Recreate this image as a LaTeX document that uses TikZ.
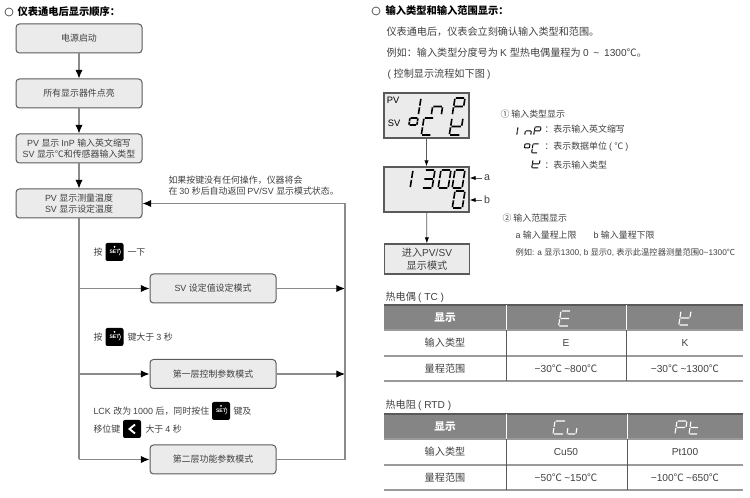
\documentclass[tikz,border=0pt]{standalone}
\usepackage{fontspec}
\setmainfont{Liberation Sans}
\newfontfamily\cjk{Noto Sans CJK SC}
\usetikzlibrary{arrows.meta}

% switch to the CJK family by character range
\newXeTeXintercharclass\cjkclass
\newcount\cjkcode
\cjkcode="3000
\loop\ifnum\cjkcode<"A000 \XeTeXcharclass\cjkcode=\cjkclass \advance\cjkcode by 1 \repeat
\cjkcode="FF00
\loop\ifnum\cjkcode<"FFF0 \XeTeXcharclass\cjkcode=\cjkclass \advance\cjkcode by 1 \repeat
\XeTeXcharclass"2103=\cjkclass
\XeTeXcharclass"2460=\cjkclass
\XeTeXcharclass"2461=\cjkclass
\XeTeXinterchartoks 0 \cjkclass={\cjk}
\XeTeXinterchartoks 4095 \cjkclass={\cjk}
\XeTeXinterchartoks \cjkclass 0={\rmfamily}
\XeTeXinterchartoks 4095 0={\rmfamily}
\XeTeXinterchartokenstate=1

\definecolor{inktext}{HTML}{404040}
\definecolor{boxfill}{HTML}{EBEBEB}
\definecolor{boxline}{HTML}{5A5A5A}
\definecolor{flowgray}{HTML}{8A8A8A}
\definecolor{headgray}{HTML}{858585}
\definecolor{rulegray}{HTML}{9A9A9A}

% seven segment pieces, unit square, y down
\newcommand{\sega}{(.08,0) -- (.92,0) }
\newcommand{\segb}{(1,.05) -- (1,.45) }
\newcommand{\segc}{(1,.55) -- (1,.95) }
\newcommand{\segd}{(.08,1) -- (.92,1) }
\newcommand{\sege}{(0,.55) -- (0,.95) }
\newcommand{\segf}{(0,.05) -- (0,.45) }
\newcommand{\segg}{(.08,.5) -- (.92,.5) }
\newcommand{\segchar}[6][segdark]{\begin{scope}[shift={(#2,#3)},x=#4*0.75pt,y=#5*0.75pt,xslant=-0.16]\draw[#1] #6;\end{scope}}
\newcommand{\setkey}[3]{\node[keybox] (#1) at (#2,#3) {\fontsize{3.8}{4}\selectfont\bfseries SET};
\draw [white,line width=0.35pt] (#1.center) ++(4.4,-3.4) arc (-50:50:4.4);
\fill [white] (#1.center) ++(0,-5) circle (1);}

\tikzset{every picture/.style={line width=0.75pt}}
\tikzset{
  flowbox/.style={draw=boxline,fill=boxfill,rounded corners=2.6pt,minimum width=94.5pt,minimum height=21.75pt,inner sep=0pt,align=center,font=\fontsize{6.7}{8.2}\selectfont,text=inktext},
  txt/.style={anchor=west,inner sep=0pt,font=\fontsize{6.7}{8.2}\selectfont,text=inktext},
  bigtxt/.style={txt,font=\fontsize{7.6}{9}\selectfont},
  headtxt/.style={txt,font=\fontsize{7.7}{9}\selectfont\bfseries,text=black},
  celltxt/.style={inner sep=0pt,font=\fontsize{7.6}{9}\selectfont,text=inktext},
  thtxt/.style={inner sep=0pt,font=\fontsize{8}{9}\selectfont\bfseries,text=white},
  flowline/.style={draw=flowgray,line width=0.8pt},
  flowarrow/.style={flowline,-{Latex[black,length=6.5pt,width=5.5pt]}},
  thinarrow/.style={draw=boxline,line width=0.6pt,-{Latex[black,length=4.5pt,width=3.2pt]}},
  lcdbox/.style={draw=boxline,fill=boxfill,line width=0.9pt,minimum width=63.75pt,inner sep=0pt},
  keybox/.style={fill=black,rounded corners=1.5pt,minimum size=13.5pt,inner sep=0pt,text=white},
  segdark/.style={draw=black,line width=1.2pt},
  segsmall/.style={draw=black,line width=0.75pt},
  seglight/.style={draw=white,line width=0.85pt},
}

\begin{document}
\begin{tikzpicture}[x=0.75pt,y=0.75pt,yscale=-1,xscale=1]
\useasboundingbox (0,0) rectangle (750,498);

% left headline
\draw [inktext,line width=0.5pt] (9,12) circle (4);
\node [headtxt] (lefthead) at (17,12) {仪表通电后显示顺序：};

% flow boxes
\node [flowbox] (power) at (79,38.5) {电源启动};
\node [flowbox] (lit) at (79,93.5) {所有显示器件点亮};
\node [flowbox] (typeshow) at (79,148.5) {PV 显示 InP 输入英文缩写\\SV 显示℃和传感器输入类型};
\node [flowbox] (live) at (79,203.5) {PV 显示测量温度\\SV 显示设定温度};
\node [flowbox] (svmode) at (213,288.5) {SV 设定值设定模式};
\node [flowbox] (firstmode) at (213,374) {第一层控制参数模式};
\node [flowbox] (secondmode) at (213,459.5) {第二层功能参数模式};

\coordinate (leftsv) at (79,288.5);
\coordinate (leftfirst) at (79,374);
\coordinate (leftsecond) at (79,459.5);
\coordinate (rightsv) at (345,288.5);
\coordinate (rightfirst) at (345,374);
\coordinate (rightsecond) at (345,459.5);
\coordinate (righttop) at (345,203.5);

% flow lines
\draw [flowarrow] (power) -- (lit);
\draw [flowarrow] (lit) -- (typeshow);
\draw [flowarrow] (typeshow) -- (live);
\draw [flowline] (live) -- (leftsecond);
\draw [flowarrow] (leftsv) -- (svmode);
\draw [flowarrow] (leftfirst) -- (firstmode);
\draw [flowarrow] (leftsecond) -- (secondmode);
\draw [flowarrow] (svmode) -- (rightsv);
\draw [flowarrow] (firstmode) -- (rightfirst);
\draw [flowarrow] (secondmode) -- (rightsecond) -- (righttop) -- (live);

% flow notes
\node [txt] (notea) at (168,180) {如果按键没有任何操作，仪器将会};
\node [txt] (noteb) at (168,191) {在 30 秒后自动返回 PV/SV 显示模式状态。};
\node [txt] (pressa) at (93,252.5) {按};
\setkey{seta}{114.5}{252}
\node [txt] (oncea) at (127,252.5) {一下};
\node [txt] (pressb) at (93,337.5) {按};
\setkey{setb}{114.5}{337}
\node [txt] (holdb) at (127,337.5) {键大于 3 秒};
\node [txt] (lcka) at (93,411.5) {LCK 改为 1000 后，同时按住};
\setkey{setc}{221}{411}
\node [txt] (lckb) at (233,411.5) {键及};
\node [txt] (shifta) at (93,429.5) {移位键};
\node [keybox] (shiftkey) at (132,429) {};
\draw [white,line width=1.4pt] (135,424.5) -- (129.5,429) -- (135,433.5);
\node [txt] (shiftb) at (145,429.5) {大于 4 秒};

% right headline and lines
\draw [inktext,line width=0.5pt] (376,11) circle (4);
\node [headtxt] (righthead) at (385,11) {输入类型和输入范围显示：};
\node [bigtxt] (lineone) at (386,32) {仪表通电后，仪表会立刻确认输入类型和范围。};
\node [bigtxt] (linetwo) at (386,53) {例如：输入类型分度号为 K 型热电偶量程为 0 \hspace{1.5pt}\textasciitilde{}\hspace{1.5pt} 1300℃。};
\node [bigtxt] (linethree) at (387,74) {( 控制显示流程如下图 )};

% display boxes
\node [lcdbox,minimum height=33.75pt] (lcdtop) at (426.5,115.5) {};
\node [lcdbox,minimum height=33.75pt] (lcdmid) at (426.5,189.5) {};
\node [lcdbox,minimum height=22.5pt,align=center,font=\fontsize{7.6}{9.6}\selectfont,text=inktext] (lcdend) at (427,259) {进入PV/SV\\显示模式};
\draw [thinarrow] (lcdtop) -- (lcdmid);
\draw [thinarrow] (lcdmid) -- (lcdend);
\node [inner sep=0pt,font=\fontsize{7}{8}\selectfont,text=black] (pvlabel) at (393,100) {PV};
\node [inner sep=0pt,font=\fontsize{7}{8}\selectfont,text=black] (svlabel) at (394,123.5) {SV};
\segchar{421}{98}{0.01}{17}{\segb\segc}
\segchar{434}{98}{10}{17}{\sege\segc\segg}
\segchar{455}{98}{10}{17}{\sega\segb\segf\segg\sege}
\segchar{410}{118}{8}{7}{\sega\segb\segc\segd\sege\segf}
\segchar{424}{118}{10}{17}{\sega\segf\sege\segd}
\segchar{452}{118}{11}{17}{\segb\segf\sege\segg\segd}
\segchar{413}{170}{0.01}{18}{\segb\segc}
\segchar{425}{170}{10}{18}{\sega\segb\segc\segd\segg}
\segchar{441}{170}{10}{18}{\sega\segb\segc\segd\sege\segf}
\segchar{455}{170}{10}{18}{\sega\segb\segc\segd\sege\segf}
\segchar{455}{191}{10}{17}{\sega\segb\segc\segd\sege\segf}
\node [inner sep=1pt,font=\fontsize{8}{9}\selectfont,text=inktext] (marka) at (487,178) {a};
\node [inner sep=1pt,font=\fontsize{8}{9}\selectfont,text=inktext] (markb) at (487,200) {b};
\draw [thinarrow] (marka) -- (marka -| lcdmid.east);
\draw [thinarrow] (markb) -- (markb -| lcdmid.east);

% display legend
\node [txt] (legenda) at (500,114) {① 输入类型显示};
\segchar[segsmall]{518}{127}{0.01}{8}{\segb\segc}
\segchar[segsmall]{526}{127}{6}{8}{\sege\segc\segg}
\segchar[segsmall]{535}{127}{6}{8}{\sega\segb\segf\segg\sege}
\node [txt] (legendb) at (544,129) {：表示输入英文缩写};
\segchar[segsmall]{525}{144}{5}{4}{\sega\segb\segc\segd\sege\segf}
\segchar[segsmall]{533}{144}{6}{9}{\sega\segf\sege\segd}
\node [txt] (legendc) at (544,147) {：表示数据单位 ( ℃ )};
\segchar[segsmall]{533}{160}{7}{8}{\segb\segf\sege\segg\segd}
\node [txt] (legendd) at (544,165) {：表示输入类型};
\node [txt] (legende) at (502,218) {② 输入范围显示};
\node [txt] (legendf) at (515,235) {a 输入量程上限};
\node [txt] (legendg) at (593,235) {b 输入量程下限};
\node [txt,font=\fontsize{6.2}{8}\selectfont] (legendh) at (515,253) {例如: a 显示1300, b 显示0, 表示此温控器测量范围0\textasciitilde1300℃};

% table TC
\node [txt,font=\fontsize{7.6}{9}\selectfont] (tctitle) at (385,297) {热电偶 ( TC )};
\fill [headgray] (384,305) rectangle (743,330);
\draw [boxline,line width=0.9pt] (384,305) -- (743,305);
\foreach \y in {330,356,381}
  \draw [rulegray,line width=0.9pt] (384,\y) -- (743,\y);
\foreach \x in {506,626} {
  \draw [white,line width=0.5pt] (\x,305) -- (\x,330);
  \draw [boxline,line width=0.5pt] (\x,330) -- (\x,381);
}
\node [thtxt] (tchead) at (445,318) {显示};
\segchar[seglight]{561}{311}{10}{15}{\sega\segf\sege\segg\segd}
\segchar[seglight]{681}{311}{10}{14}{\segb\segf\sege\segg\segd}
\node [celltxt] (tcrowa) at (445,343) {输入类型};
\node [celltxt] (tce) at (566,343) {E};
\node [celltxt] (tck) at (685,343) {K};
\node [celltxt] (tcrowb) at (445,369) {量程范围};
\node [celltxt] (tcerange) at (566,369) {−30℃ \textasciitilde800℃};
\node [celltxt] (tckrange) at (685,369) {−30℃ \textasciitilde1300℃};

% table RTD
\node [txt,font=\fontsize{7.6}{9}\selectfont] (rtdtitle) at (385,405) {热电阻 ( RTD )};
\fill [headgray] (384,414) rectangle (743,439);
\draw [boxline,line width=0.9pt] (384,414) -- (743,414);
\foreach \y in {439,465,490}
  \draw [rulegray,line width=0.9pt] (384,\y) -- (743,\y);
\foreach \x in {506,627} {
  \draw [white,line width=0.5pt] (\x,414) -- (\x,439);
  \draw [boxline,line width=0.5pt] (\x,439) -- (\x,490);
}
\node [thtxt] (rtdhead) at (445,427) {显示};
\segchar[seglight]{555}{421}{11}{13}{\sega\segf\sege\segd}
\segchar[seglight]{569}{421}{9}{13}{\sege\segc\segd}
\segchar[seglight]{677}{421}{10}{13}{\sega\segb\segf\segg\sege}
\segchar[seglight]{691}{421}{9}{13}{\segf\sege\segg\segd}
\node [celltxt] (rtdrowa) at (445,452) {输入类型};
\node [celltxt] (rtdcu) at (566,452) {Cu50};
\node [celltxt] (rtdpt) at (685,452) {Pt100};
\node [celltxt] (rtdrowb) at (445,478) {量程范围};
\node [celltxt] (rtdcurange) at (566,478) {−50℃ \textasciitilde150℃};
\node [celltxt] (rtdptrange) at (685,478) {−100℃ \textasciitilde650℃};

\end{tikzpicture}
\end{document}
